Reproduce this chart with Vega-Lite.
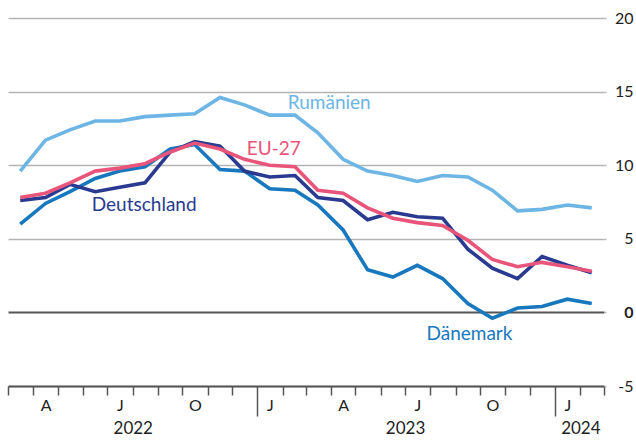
{
  "$schema": "https://vega.github.io/schema/vega-lite/v6.json",
  "width": 596,
  "height": 368,
  "autosize": {"type": "none"},
  "padding": {"left": 8, "top": 18, "right": 32, "bottom": 54},
  "background": "white",
  "config": {
    "view": {"stroke": null},
    "font": "Lato",
    "axis": {"labelFont": "Lato", "labelColor": "#222222", "title": null}
  },
  "datasets": {
    "series": [
      {"date": "2022-03-16", "series": "Rumänien", "value": 9.6},
      {"date": "2022-04-16", "series": "Rumänien", "value": 11.7},
      {"date": "2022-05-16", "series": "Rumänien", "value": 12.4},
      {"date": "2022-06-16", "series": "Rumänien", "value": 13.0},
      {"date": "2022-07-16", "series": "Rumänien", "value": 13.0},
      {"date": "2022-08-16", "series": "Rumänien", "value": 13.3},
      {"date": "2022-09-16", "series": "Rumänien", "value": 13.4},
      {"date": "2022-10-16", "series": "Rumänien", "value": 13.5},
      {"date": "2022-11-16", "series": "Rumänien", "value": 14.6},
      {"date": "2022-12-16", "series": "Rumänien", "value": 14.1},
      {"date": "2023-01-16", "series": "Rumänien", "value": 13.4},
      {"date": "2023-02-16", "series": "Rumänien", "value": 13.4},
      {"date": "2023-03-16", "series": "Rumänien", "value": 12.2},
      {"date": "2023-04-16", "series": "Rumänien", "value": 10.4},
      {"date": "2023-05-16", "series": "Rumänien", "value": 9.6},
      {"date": "2023-06-16", "series": "Rumänien", "value": 9.3},
      {"date": "2023-07-16", "series": "Rumänien", "value": 8.9},
      {"date": "2023-08-16", "series": "Rumänien", "value": 9.3},
      {"date": "2023-09-16", "series": "Rumänien", "value": 9.2},
      {"date": "2023-10-16", "series": "Rumänien", "value": 8.3},
      {"date": "2023-11-16", "series": "Rumänien", "value": 6.9},
      {"date": "2023-12-16", "series": "Rumänien", "value": 7.0},
      {"date": "2024-01-16", "series": "Rumänien", "value": 7.3},
      {"date": "2024-02-15", "series": "Rumänien", "value": 7.1},
      {"date": "2022-03-16", "series": "Dänemark", "value": 6.0},
      {"date": "2022-04-16", "series": "Dänemark", "value": 7.4},
      {"date": "2022-05-16", "series": "Dänemark", "value": 8.2},
      {"date": "2022-06-16", "series": "Dänemark", "value": 9.1},
      {"date": "2022-07-16", "series": "Dänemark", "value": 9.6},
      {"date": "2022-08-16", "series": "Dänemark", "value": 9.9},
      {"date": "2022-09-16", "series": "Dänemark", "value": 11.1},
      {"date": "2022-10-16", "series": "Dänemark", "value": 11.4},
      {"date": "2022-11-16", "series": "Dänemark", "value": 9.7},
      {"date": "2022-12-16", "series": "Dänemark", "value": 9.6},
      {"date": "2023-01-16", "series": "Dänemark", "value": 8.4},
      {"date": "2023-02-16", "series": "Dänemark", "value": 8.3},
      {"date": "2023-03-16", "series": "Dänemark", "value": 7.3},
      {"date": "2023-04-16", "series": "Dänemark", "value": 5.6},
      {"date": "2023-05-16", "series": "Dänemark", "value": 2.9},
      {"date": "2023-06-16", "series": "Dänemark", "value": 2.4},
      {"date": "2023-07-16", "series": "Dänemark", "value": 3.2},
      {"date": "2023-08-16", "series": "Dänemark", "value": 2.3},
      {"date": "2023-09-16", "series": "Dänemark", "value": 0.6},
      {"date": "2023-10-16", "series": "Dänemark", "value": -0.4},
      {"date": "2023-11-16", "series": "Dänemark", "value": 0.3},
      {"date": "2023-12-16", "series": "Dänemark", "value": 0.4},
      {"date": "2024-01-16", "series": "Dänemark", "value": 0.9},
      {"date": "2024-02-15", "series": "Dänemark", "value": 0.6},
      {"date": "2022-03-16", "series": "Deutschland", "value": 7.6},
      {"date": "2022-04-16", "series": "Deutschland", "value": 7.8},
      {"date": "2022-05-16", "series": "Deutschland", "value": 8.7},
      {"date": "2022-06-16", "series": "Deutschland", "value": 8.2},
      {"date": "2022-07-16", "series": "Deutschland", "value": 8.5},
      {"date": "2022-08-16", "series": "Deutschland", "value": 8.8},
      {"date": "2022-09-16", "series": "Deutschland", "value": 10.9},
      {"date": "2022-10-16", "series": "Deutschland", "value": 11.6},
      {"date": "2022-11-16", "series": "Deutschland", "value": 11.3},
      {"date": "2022-12-16", "series": "Deutschland", "value": 9.6},
      {"date": "2023-01-16", "series": "Deutschland", "value": 9.2},
      {"date": "2023-02-16", "series": "Deutschland", "value": 9.3},
      {"date": "2023-03-16", "series": "Deutschland", "value": 7.8},
      {"date": "2023-04-16", "series": "Deutschland", "value": 7.6},
      {"date": "2023-05-16", "series": "Deutschland", "value": 6.3},
      {"date": "2023-06-16", "series": "Deutschland", "value": 6.8},
      {"date": "2023-07-16", "series": "Deutschland", "value": 6.5},
      {"date": "2023-08-16", "series": "Deutschland", "value": 6.4},
      {"date": "2023-09-16", "series": "Deutschland", "value": 4.3},
      {"date": "2023-10-16", "series": "Deutschland", "value": 3.0},
      {"date": "2023-11-16", "series": "Deutschland", "value": 2.3},
      {"date": "2023-12-16", "series": "Deutschland", "value": 3.8},
      {"date": "2024-01-16", "series": "Deutschland", "value": 3.2},
      {"date": "2024-02-15", "series": "Deutschland", "value": 2.7},
      {"date": "2022-03-16", "series": "EU-27", "value": 7.8},
      {"date": "2022-04-16", "series": "EU-27", "value": 8.1},
      {"date": "2022-05-16", "series": "EU-27", "value": 8.8},
      {"date": "2022-06-16", "series": "EU-27", "value": 9.6},
      {"date": "2022-07-16", "series": "EU-27", "value": 9.8},
      {"date": "2022-08-16", "series": "EU-27", "value": 10.1},
      {"date": "2022-09-16", "series": "EU-27", "value": 10.9},
      {"date": "2022-10-16", "series": "EU-27", "value": 11.5},
      {"date": "2022-11-16", "series": "EU-27", "value": 11.1},
      {"date": "2022-12-16", "series": "EU-27", "value": 10.4},
      {"date": "2023-01-16", "series": "EU-27", "value": 10.0},
      {"date": "2023-02-16", "series": "EU-27", "value": 9.9},
      {"date": "2023-03-16", "series": "EU-27", "value": 8.3},
      {"date": "2023-04-16", "series": "EU-27", "value": 8.1},
      {"date": "2023-05-16", "series": "EU-27", "value": 7.1},
      {"date": "2023-06-16", "series": "EU-27", "value": 6.4},
      {"date": "2023-07-16", "series": "EU-27", "value": 6.1},
      {"date": "2023-08-16", "series": "EU-27", "value": 5.9},
      {"date": "2023-09-16", "series": "EU-27", "value": 4.9},
      {"date": "2023-10-16", "series": "EU-27", "value": 3.6},
      {"date": "2023-11-16", "series": "EU-27", "value": 3.1},
      {"date": "2023-12-16", "series": "EU-27", "value": 3.4},
      {"date": "2024-01-16", "series": "EU-27", "value": 3.1},
      {"date": "2024-02-15", "series": "EU-27", "value": 2.8}
    ],
    "labels": [
      {"date": "2023-03-30", "series": "Rumänien", "value": 14.2},
      {"date": "2023-01-21", "series": "EU-27", "value": 11.07},
      {"date": "2022-08-15", "series": "Deutschland", "value": 7.27},
      {"date": "2023-09-18", "series": "Dänemark", "value": -1.49}
    ]
  },
  "encoding": {
    "y": {
      "field": "value",
      "type": "quantitative",
      "scale": {"domain": [-5, 20], "nice": false, "zero": false},
      "axis": {
        "orient": "right",
        "values": [-5, 0, 5, 10, 15, 20],
        "domain": false,
        "ticks": true,
        "tickSize": 2,
        "tickColor": "#b4b4b4",
        "tickWidth": 1.5,
        "grid": true,
        "gridColor": {"condition": {"test": "datum.value === 0", "value": "#555555"}, "value": "#b4b4b4"},
        "gridWidth": {"condition": {"test": "datum.value === 0", "value": 2.2}, "value": 1.5},
        "labelExpr": "'' + datum.value",
        "labelAlign": "right",
        "labelBaseline": "middle",
        "labelPadding": 27,
        "labelFontSize": 16,
        "labelFontWeight": {"condition": {"test": "datum.value === 0", "value": "bold"}, "value": "normal"},
        "title": null
      }
    },
    "color": {
      "field": "series",
      "type": "nominal",
      "scale": {
        "domain": ["Rumänien", "EU-27", "Deutschland", "Dänemark"],
        "range": ["#6cb5e5", "#e9557a", "#293a90", "#1878be"]
      },
      "legend": null
    }
  },
  "layer": [
    {
      "data": {"name": "series"},
      "mark": {"type": "line", "strokeWidth": 3.6},
      "encoding": {
        "x": {
          "field": "date",
          "type": "temporal",
          "scale": {"type": "utc", "domain": ["2022-03-01", "2024-03-01"], "nice": false},
          "axis": {
            "orient": "bottom",
            "title": null,
            "grid": false,
            "domain": true,
            "domainColor": "#555555",
            "domainWidth": 2.2,
            "tickCount": {"interval": "month", "step": 1},
            "ticks": true,
            "tickColor": "#555555",
            "tickWidth": 1.5,
            "tickSize": {"condition": {"test": "utcmonth(datum.value) === 0", "value": 30}, "value": 9},
            "labelPadding": {"condition": {"test": "utcmonth(datum.value) === 0", "value": -19}, "value": 2},
            "labelExpr": "['J','','','A','','','J','','','O','',''][utcmonth(datum.value)]",
            "labelOffset": 12.4,
            "labelAlign": "center",
            "labelBaseline": "top",
            "labelFontSize": 16,
            "labelOverlap": false,
            "labelBound": false,
            "labelFlush": false
          }
        }
      }
    },
    {
      "data": {"name": "labels"},
      "mark": {"type": "text", "fontSize": 19, "font": "Lato", "align": "center", "baseline": "middle"},
      "encoding": {
        "x": {
          "field": "date",
          "type": "temporal",
          "scale": {"type": "utc", "domain": ["2022-03-01", "2024-03-01"], "nice": false},
          "axis": {
            "orient": "bottom",
            "title": null,
            "grid": false,
            "domain": false,
            "ticks": false,
            "values": [
              {"year": 2022, "month": 8, "date": 1, "utc": true},
              {"year": 2023, "month": 7, "date": 1, "utc": true},
              {"year": 2024, "month": 2, "date": 1, "utc": true}
            ],
            "labelExpr": "'' + utcyear(datum.value)",
            "labelPadding": 34,
            "labelAlign": "center",
            "labelBaseline": "top",
            "labelFontSize": 17,
            "labelOverlap": false,
            "labelBound": false,
            "labelFlush": false
          }
        },
        "text": {"field": "series"}
      }
    }
  ],
  "resolve": {"axis": {"x": "independent"}}
}
